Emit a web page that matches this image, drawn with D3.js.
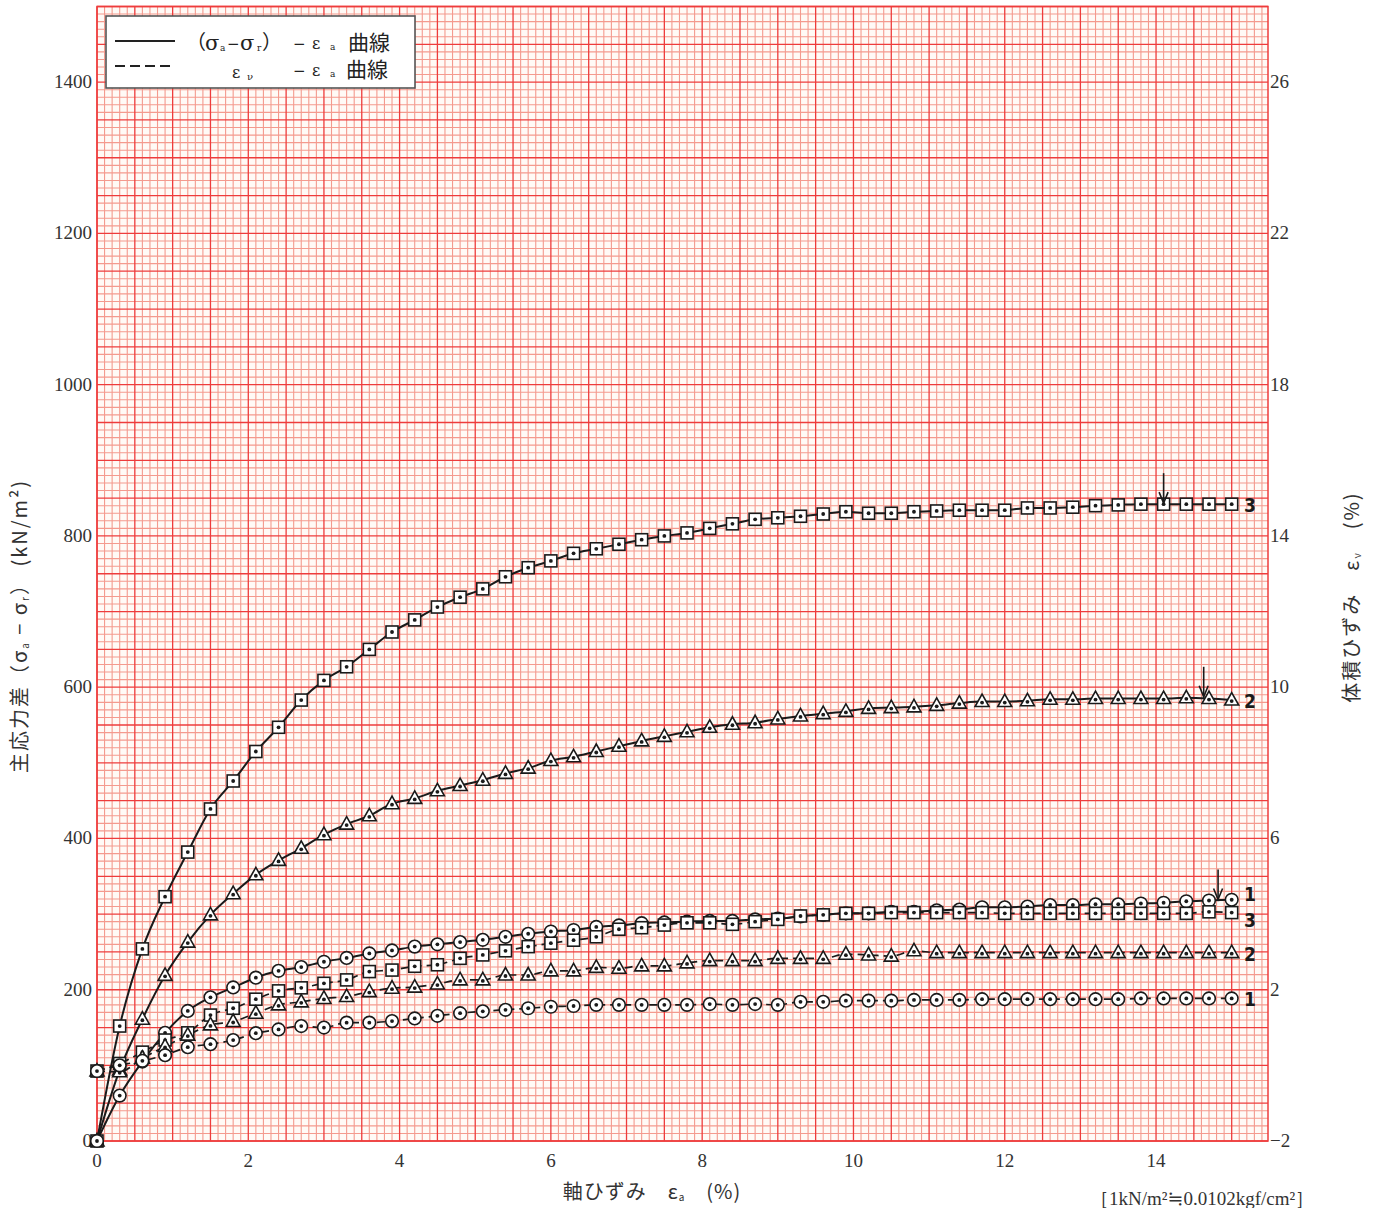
<!DOCTYPE html>
<html><head><meta charset="utf-8">
<script src="https://cdn.jsdelivr.net/npm/d3@7"></script>
<style>body{margin:0;background:#fff}</style>
</head><body>
<svg id="c" width="1381" height="1208"></svg>
<script>
// ---------- data ----------
const strain = [0,0.3,0.6,0.9,1.2,1.5,1.8,2.1,2.4,2.7,
  3.0,3.3,3.6,3.9,4.2,4.5,4.8,5.1,5.4,5.7,
  6.0,6.3,6.6,6.9,7.2,7.5,7.8,8.1,8.4,8.7,
  9.0,9.3,9.6,9.9,10.2,10.5,10.8,11.1,11.4,11.7,
  12.0,12.3,12.6,12.9,13.2,13.5,13.8,14.1,14.4,14.7,
  15.0];
// principal stress difference (kN/m2), specimens 1..3
const dev3 = [0,152,254,323,382,439,476,515,547,583,
  609,627,650,673,689,706,719,730,746,758,
  767,777,783,789,795,800,804,810,816,822,
  824,826,829,832,830,830,832,833,834,834,
  834,837,837,838,840,841,842,842,842,842,
  842];
const dev2 = [0,94,161,219,263,299,327,352,371,387,
  405,419,430,446,453,463,470,477,486,493,
  503,508,515,522,529,535,541,547,551,553,
  558,562,565,568,572,573,574,576,579,581,
  581,582,584,584,585,585,585,585,586,585,
  583];
const dev1 = [0,60,105,143,172,190,203,216,225,230,
  237,242,248,252,257,260,263,266,270,274,
  277,279,283,285,288,289,290,291,291,293,
  294,297,299,301,301,303,303,305,306,309,
  309,310,312,312,313,313,314,315,317,318,
  319];
// volumetric strain (%), specimens 1..3
const vol3 = [-0.15,0.05,0.35,0.67,0.86,1.33,1.51,1.75,1.97,2.05,
  2.17,2.26,2.48,2.52,2.62,2.66,2.83,2.92,3.03,3.14,
  3.23,3.31,3.40,3.60,3.64,3.71,3.77,3.77,3.73,3.80,
  3.86,3.95,3.98,4.02,4.02,4.04,4.04,4.04,4.04,4.04,
  4.02,4.02,4.02,4.02,4.02,4.02,4.02,4.02,4.02,4.06,
  4.04];
const vol2 = [-0.15,-0.17,0.19,0.50,0.80,1.07,1.16,1.38,1.60,1.68,
  1.77,1.82,1.95,2.04,2.07,2.15,2.26,2.26,2.39,2.39,
  2.50,2.50,2.59,2.57,2.63,2.63,2.71,2.77,2.77,2.77,
  2.83,2.83,2.83,2.94,2.92,2.89,3.03,2.98,2.98,2.98,
  2.98,2.98,2.98,2.98,2.98,2.98,2.98,2.98,2.98,2.98,
  2.98];
const vol1 = [-0.15,0.00,0.12,0.27,0.48,0.56,0.67,0.85,0.95,1.04,
  1.00,1.13,1.13,1.17,1.24,1.31,1.38,1.43,1.47,1.51,
  1.55,1.57,1.60,1.60,1.60,1.60,1.60,1.62,1.60,1.62,
  1.60,1.68,1.68,1.71,1.71,1.71,1.73,1.73,1.73,1.75,
  1.75,1.75,1.75,1.75,1.75,1.75,1.77,1.77,1.77,1.77,
  1.77];
// failure arrows: strain (%) and stress (kN/m2)
const failStrain = [14.82, 14.63, 14.1];
const failStress = [318, 586, 842];
// tick labels
const xTicks = [0,2,4,6,8,10,12,14];
const yLeftTicks = [0,200,400,600,800,1000,1200,1400];
const yRightTicks = [-2,2,6,10,14,18,22,26];

// ---------- layout ----------
const svg = d3.select('#c');
const xS = d3.scaleLinear().domain([0,15.48]).range([97,1268]);
const yL = d3.scaleLinear().domain([0,1500]).range([1141,6.5]);
const yR = d3.scaleLinear().domain([-2,28]).range([1141,6.5]);
const X0 = xS(0), X1 = xS(15.48), Y0 = yL(0), Y1 = yL(1500);

// graph paper
const grid = svg.append('g');
grid.append('rect').attr('x',X0).attr('y',Y1).attr('width',X1-X0).attr('height',Y0-Y1).attr('fill','#fffaf6');
const gx = d3.range(0, 155);
const gy = d3.range(0, 151);
grid.selectAll('line.vm').data(gx.filter(i=>i%5)).join('line')
  .attr('x1',i=>xS(i/10)).attr('x2',i=>xS(i/10)).attr('y1',Y1).attr('y2',Y0)
  .attr('stroke','#f49a8e').attr('stroke-width',1.1);
grid.selectAll('line.hm').data(gy.filter(j=>j%5)).join('line')
  .attr('y1',j=>yL(j*10)).attr('y2',j=>yL(j*10)).attr('x1',X0).attr('x2',X1)
  .attr('stroke','#f49a8e').attr('stroke-width',1.1);
grid.selectAll('line.vM').data(gx.filter(i=>i%5===0)).join('line')
  .attr('x1',i=>xS(i/10)).attr('x2',i=>xS(i/10)).attr('y1',Y1).attr('y2',Y0)
  .attr('stroke','#ee3c3c').attr('stroke-width',1.3);
grid.selectAll('line.hM').data(gy.filter(j=>j%5===0)).join('line')
  .attr('y1',j=>yL(j*10)).attr('y2',j=>yL(j*10)).attr('x1',X0).attr('x2',X1)
  .attr('stroke','#ee3c3c').attr('stroke-width',1.3);
grid.append('rect').attr('x',X0).attr('y',Y1).attr('width',X1-X0).attr('height',Y0-Y1)
  .attr('fill','none').attr('stroke','#ee3c3c').attr('stroke-width',1.5);

// tick labels
const tickFont = 'Liberation Serif, DejaVu Serif, serif';
svg.append('g').selectAll('text').data(yLeftTicks).join('text')
  .attr('x',92).attr('y',d=>yL(d)+6).attr('text-anchor','end')
  .attr('font-family',tickFont).attr('font-size',19).attr('fill','#333').text(d=>d);
svg.append('g').selectAll('text').data(yRightTicks).join('text')
  .attr('x',1270).attr('y',d=>yR(d)+6).attr('text-anchor','start')
  .attr('font-family',tickFont).attr('font-size',19).attr('fill','#333').text(d=>d<0?'−'+(-d):d);
svg.append('g').selectAll('text').data(xTicks).join('text')
  .attr('x',d=>xS(d)).attr('y',1167).attr('text-anchor','middle')
  .attr('font-family',tickFont).attr('font-size',19).attr('fill','#333').text(d=>d);

// series
const series = [
  {v:dev3, s:yL, shape:'square', dash:false, label:'3', dy:8},
  {v:dev2, s:yL, shape:'tri', dash:false, label:'2', dy:8},
  {v:dev1, s:yL, shape:'circle', dash:false, label:'1', dy:1},
  {v:vol3, s:yR, shape:'square', dash:true, label:'3', dy:14},
  {v:vol2, s:yR, shape:'tri', dash:true, label:'2', dy:8},
  {v:vol1, s:yR, shape:'circle', dash:true, label:'1', dy:8}
];
const plot = svg.append('g');
series.forEach(sr=>{
  const line = d3.line().x((d,i)=>xS(strain[i])).y(d=>sr.s(d)).curve(d3.curveMonotoneX);
  plot.append('path').datum(sr.v).attr('d',line).attr('fill','none')
    .attr('stroke','#1a1a1a').attr('stroke-width',sr.dash?1.7:2)
    .attr('stroke-dasharray',sr.dash?'8,5':null);
});
series.forEach(sr=>{
  const g = plot.append('g');
  const pts = sr.v.map((d,i)=>({x:xS(strain[i]), y:sr.s(d)}));
  const m = g.selectAll('g').data(pts).join('g').attr('transform',p=>`translate(${p.x},${p.y})`);
  if(sr.shape==='square'){
    m.append('rect').attr('x',-6).attr('y',-6).attr('width',12).attr('height',12);
  } else if(sr.shape==='circle'){
    m.append('circle').attr('r',6.3);
  } else {
    m.append('path').attr('d','M0,-7.5L7,5L-7,5Z');
  }
  m.selectAll('rect,circle,path').attr('fill','#fff').attr('stroke','#1a1a1a').attr('stroke-width',1.6);
  m.append('circle').attr('r',1.9).attr('cy',sr.shape==='tri'?1:0).attr('fill','#1a1a1a');
  // end label
  plot.append('text').attr('x',1244).attr('y',sr.s(sr.v[sr.v.length-1])+sr.dy)
    .attr('font-family','Liberation Sans Narrow, DejaVu Sans Condensed, sans-serif').attr('font-weight','bold')
    .attr('font-size',19).attr('fill','#1a1a1a').text(sr.label);
});

// failure arrows
failStrain.forEach((fx,i)=>{
  const x = xS(fx), tip = yL(failStress[i]) - 1;
  const a = plot.append('g').attr('stroke','#1a1a1a').attr('stroke-width',1.6).attr('fill','none');
  a.append('line').attr('x1',x).attr('x2',x).attr('y1',tip-30).attr('y2',tip);
  a.append('path').attr('d',`M${x-4.5},${tip-11}L${x},${tip}L${x+4.5},${tip-11}`);
});

// legend
const lg = svg.append('g');
lg.append('rect').attr('x',106).attr('y',16).attr('width',309).attr('height',72)
  .attr('fill','#fff').attr('stroke','#555').attr('stroke-width',1.6);
lg.append('line').attr('x1',115).attr('x2',175).attr('y1',41).attr('y2',41).attr('stroke','#222').attr('stroke-width',2);
lg.append('line').attr('x1',115).attr('x2',175).attr('y1',66).attr('y2',66).attr('stroke','#222').attr('stroke-width',2).attr('stroke-dasharray','10,5');
const lf = 'DejaVu Serif, Noto Sans CJK JP, serif';
function t(x,y,s,size){
  return lg.append('text').attr('x',x).attr('y',y).attr('font-family',lf).attr('font-size',size||19).attr('fill','#222').text(s);
}
t(186,49,'（',20); t(205,50,'σ',21); t(220,51,'a',9); t(227,49,'−',15); t(240,50,'σ',21); t(257,51,'r',9); t(262,49,'）',20);
t(293,49,'−',15); t(312,49,'ε',16); t(330,50,'a',9);
t(348,50,'曲線',21);
t(232,78,'ε',16); t(247,80,'ν',10);
t(293,76,'−',15); t(312,76,'ε',16); t(330,77,'a',9);
t(346,77,'曲線',21);

// axis titles
const af = 'Noto Sans CJK JP, DejaVu Serif, serif';
const xt = svg.append('text').attr('x',652).attr('y',1199).attr('text-anchor','middle')
  .attr('font-family',af).attr('font-size',20).attr('letter-spacing',1).attr('fill','#333');
xt.append('tspan').text('軸ひずみ　ε');
xt.append('tspan').attr('font-size',10).attr('dy',2).text('a');
xt.append('tspan').attr('dy',-2).text('　(%)');

const lt = svg.append('text').attr('transform','translate(27,626) rotate(-90)').attr('text-anchor','middle')
  .attr('font-family',af).attr('font-size',20).attr('letter-spacing',2).attr('fill','#333');
lt.append('tspan').text('主応力差（σ');
lt.append('tspan').attr('font-size',10).attr('dy',2).text('a');
lt.append('tspan').attr('dy',-2).text(' − σ');
lt.append('tspan').attr('font-size',10).attr('dy',2).text('r');
lt.append('tspan').attr('dy',-2).text('） (kN/m²)');

const rt = svg.append('text').attr('transform','translate(1359,597) rotate(-90)').attr('text-anchor','middle')
  .attr('font-family',af).attr('font-size',20).attr('letter-spacing',2).attr('fill','#333');
rt.append('tspan').text('体積ひずみ　ε');
rt.append('tspan').attr('font-size',10).attr('dy',2).text('ν');
rt.append('tspan').attr('dy',-2).text('　(%)');

svg.append('text').attr('x',1090).attr('y',1205).attr('font-family',tickFont).attr('font-size',19).attr('fill','#333')
  .text('［1kN/m²≒0.0102kgf/cm²］');
</script></body></html>
